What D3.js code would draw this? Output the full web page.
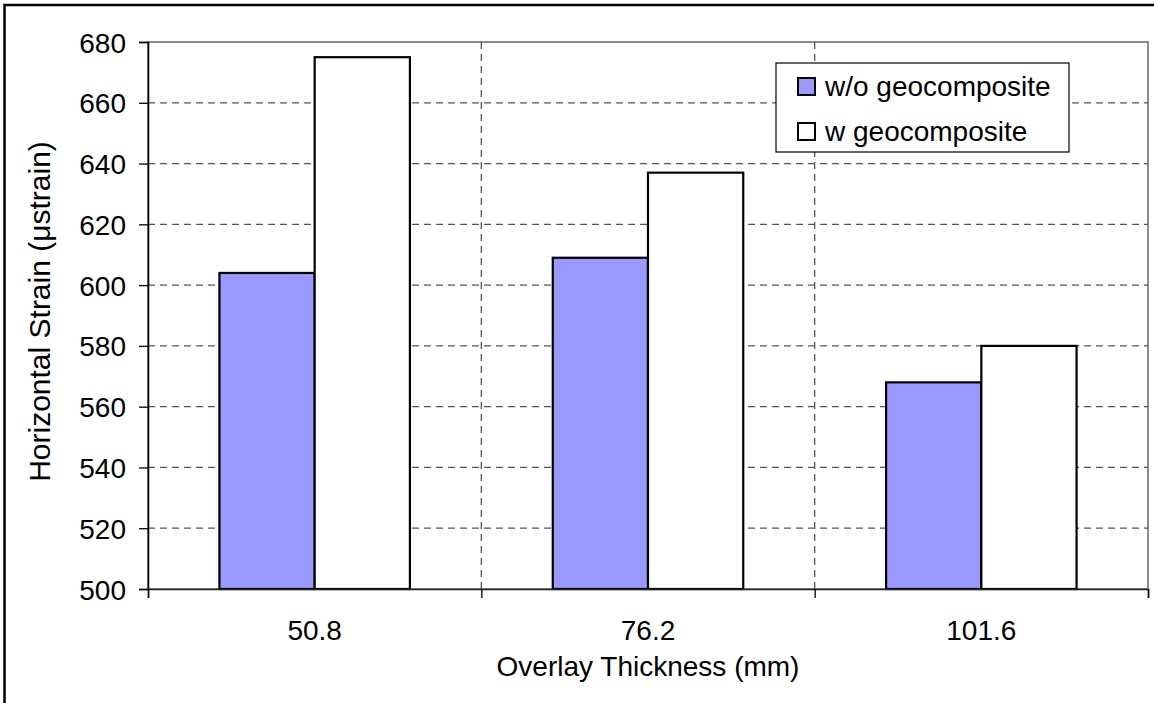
<!DOCTYPE html>
<html>
<head>
<meta charset="utf-8">
<script src="https://cdn.jsdelivr.net/npm/d3@7"></script>
<style>
  body { margin: 0; background: #fff; }
  text { font-family: Arial, "Liberation Sans", sans-serif; fill: #000; }
</style>
</head>
<body>
<svg id="chart" width="1154" height="703"></svg>
<script>
// values
const categories = ["50.8", "76.2", "101.6"];
const seriesNames = ["w/o geocomposite", "w geocomposite"];
const withoutGeo = [604, 609, 568];
const withGeo = [675, 637, 580];
const yTicks = [500, 520, 540, 560, 580, 600, 620, 640, 660, 680];

const colors = ["#9999ff", "#ffffff"];
const series = [withoutGeo, withGeo];
const fontSize = "28px";

const margin = { top: 42, right: 6, bottom: 114, left: 148 },
    width = 1154 - margin.left - margin.right,
    height = 703 - margin.top - margin.bottom;

const svg = d3.select("#chart");

// outer chart border (right/bottom fall off the picture)
svg.append("rect")
    .attr("x", 4.5).attr("y", 5)
    .attr("width", 1160).attr("height", 710)
    .attr("fill", "none").attr("stroke", "#000").attr("stroke-width", 2.5);

const g = svg.append("g")
    .attr("transform", "translate(" + margin.left + "," + margin.top + ")");

const x = d3.scaleBand()
    .domain(categories)
    .range([0, width]);

const y = d3.scaleLinear()
    .domain([500, 680])
    .range([height, 0]);

// Excel gap width 150%
const barW = x.bandwidth() / 3.5;

// plot frame
g.append("rect")
    .attr("width", width).attr("height", height)
    .attr("fill", "none").attr("stroke", "#8c8c8c").attr("stroke-width", 2);

// horizontal gridlines
g.selectAll(".hgrid").data(yTicks.slice(1, -1)).enter().append("line")
    .attr("x1", 0).attr("x2", width)
    .attr("y1", d => y(d)).attr("y2", d => y(d))
    .attr("stroke", "#555").attr("stroke-width", 1.3)
    .attr("stroke-dasharray", "7,5");

// vertical gridlines at category boundaries
g.selectAll(".vgrid").data(categories.slice(1)).enter().append("line")
    .attr("x1", d => x(d)).attr("x2", d => x(d))
    .attr("y1", 0).attr("y2", height)
    .attr("stroke", "#555").attr("stroke-width", 1.3)
    .attr("stroke-dasharray", "7,5");

// bars
series.forEach(function (vals, s) {
    g.selectAll(".bar" + s).data(vals).enter().append("rect")
        .attr("x", (d, i) => x(categories[i]) + x.bandwidth() / 2 + (s - 1) * barW)
        .attr("y", d => y(d))
        .attr("width", barW)
        .attr("height", d => height - y(d))
        .attr("fill", colors[s])
        .attr("stroke", "#000").attr("stroke-width", 2.2);
});

// y axis
const yAxis = d3.axisLeft(y).tickValues(yTicks).tickSize(9).tickPadding(13);
const ya = g.append("g").call(yAxis);
ya.select(".domain").attr("stroke", "#000").attr("stroke-width", 1.6);
ya.selectAll(".tick line").attr("stroke", "#000").attr("stroke-width", 1.3);
ya.selectAll("text").style("font-size", fontSize).attr("dy", "0.36em");

// x axis: ticks at category boundaries
const xb = d3.scaleLinear().domain([0, categories.length]).range([0, width]);
const xa = g.append("g").attr("transform", "translate(0," + height + ")")
    .call(d3.axisBottom(xb).ticks(categories.length).tickSize(9).tickFormat(""));
xa.select(".domain").attr("stroke", "#222").attr("stroke-width", 1.6);
xa.selectAll(".tick line").attr("stroke", "#000").attr("stroke-width", 1.3);

g.selectAll(".xlabel").data(categories).enter().append("text")
    .attr("x", d => x(d) + x.bandwidth() / 2)
    .attr("y", height + 51)
    .attr("text-anchor", "middle")
    .style("font-size", fontSize)
    .text(d => d);

// axis titles
g.append("text")
    .attr("x", width / 2).attr("y", height + 87)
    .attr("text-anchor", "middle")
    .style("font-size", fontSize)
    .text("Overlay Thickness (mm)");

g.append("text")
    .attr("transform", "translate(" + (-98) + "," + (height / 2 - 4) + ") rotate(-90)")
    .attr("text-anchor", "middle")
    .style("font-size", "30px")
    .text("Horizontal Strain (μstrain)");

// legend
const lg = svg.append("g").attr("transform", "translate(776,63)");
lg.append("rect")
    .attr("width", 293).attr("height", 89)
    .attr("fill", "#fff").attr("stroke", "#000").attr("stroke-width", 1.2);
seriesNames.forEach(function (name, i) {
    lg.append("rect")
        .attr("x", 22).attr("y", 15 + i * 45)
        .attr("width", 17).attr("height", 17)
        .attr("fill", colors[i]).attr("stroke", "#000").attr("stroke-width", 2);
    lg.append("text")
        .attr("x", 49).attr("y", 33 + i * 45)
        .style("font-size", fontSize)
        .text(name);
});
</script>
</body>
</html>
